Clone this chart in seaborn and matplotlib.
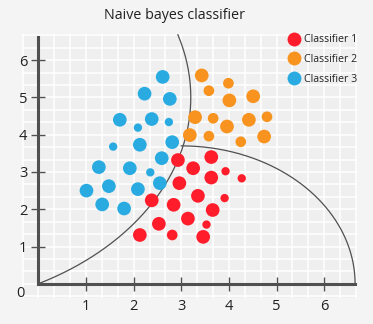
import numpy as np
import pandas as pd
import matplotlib
matplotlib.use("Agg")
import matplotlib.pyplot as plt
import seaborn as sns
from matplotlib.lines import Line2D
from matplotlib.ticker import MultipleLocator

# ---------------- data ----------------
classes = ["Classifier 1", "Classifier 2", "Classifier 3"]
palette = ["#FF1D2B", "#F7931E", "#29ABE2"]

c1_x = [2.93, 3.63, 3.25, 3.63, 3.93, 4.27, 2.96, 3.35, 3.91, 2.38, 2.84, 3.66, 3.14, 2.53, 3.53, 2.13, 2.81, 3.46]
c1_y = [3.32, 3.40, 3.10, 2.85, 3.02, 2.83, 2.70, 2.36, 2.30, 2.24, 2.12, 1.98, 1.75, 1.61, 1.59, 1.31, 1.31, 1.26]
c1_s = ["L", "L", "L", "L", "S", "S", "L", "L", "S", "L", "L", "L", "L", "L", "S", "L", "M", "L"]

c2_x = [3.43, 3.99, 3.58, 4.01, 4.51, 3.29, 3.67, 3.96, 4.42, 4.80, 3.18, 3.58, 4.25, 4.74]
c2_y = [5.59, 5.38, 5.18, 4.92, 5.03, 4.47, 4.44, 4.22, 4.40, 4.48, 3.99, 3.96, 3.81, 3.95]
c2_s = ["L", "M", "M", "L", "L", "L", "M", "L", "L", "M", "L", "M", "M", "L"]

c3_x = [2.61, 2.23, 2.76, 1.71, 2.38, 2.09, 2.74, 1.57, 2.13, 2.81, 2.59, 1.27, 1.92, 2.35, 1.01, 1.48, 2.09, 2.55, 1.34, 1.80]
c3_y = [5.55, 5.10, 4.96, 4.40, 4.42, 4.19, 4.34, 3.68, 3.73, 3.80, 3.37, 3.13, 3.10, 2.99, 2.50, 2.62, 2.54, 2.70, 2.13, 2.02]
c3_s = ["L", "L", "L", "L", "L", "S", "S", "S", "L", "L", "L", "L", "L", "S", "L", "L", "L", "L", "L", "L"]

x_ticks = [1, 2, 3, 4, 5, 6]
y_ticks = [1, 2, 3, 4, 5, 6]

# decision boundaries (ellipse parameters: centre x, centre y, radius x, radius y)
bound1 = dict(cx=-2.8, cy=5.0, rx=6.0, ry=5.65, ytop=6.68)
bound2 = dict(cx=3.0, cy=0.0, rx=3.65, ry=3.7)

df = pd.DataFrame({
    "x": c1_x + c2_x + c3_x,
    "y": c1_y + c2_y + c3_y,
    "cls": [classes[0]] * len(c1_x) + [classes[1]] * len(c2_x) + [classes[2]] * len(c3_x),
    "sz": c1_s + c2_s + c3_s,
})

# ---------------- style ----------------
plt.rcParams["font.family"] = ["Open Sans", "DejaVu Sans"]
axis_col = "#505050"
text_col = "#222222"

fig = plt.figure(figsize=(3.73, 3.24), dpi=100, facecolor="#f4f4f4")
ax = fig.add_axes([0.0582, 0.0802, 0.8989, 0.8148])
ax.set_facecolor("#efefef")

sns.scatterplot(data=df, x="x", y="y", hue="cls", hue_order=classes, palette=palette,
                size="sz", sizes={"L": 97, "M": 59, "S": 36}, linewidth=0,
                legend=False, ax=ax, zorder=3)

# boundaries
t0 = np.arctan2((0 - bound1["cy"]) / bound1["ry"], (0 - bound1["cx"]) / bound1["rx"])
t1 = np.arcsin((bound1["ytop"] - bound1["cy"]) / bound1["ry"])
t = np.linspace(t0, t1, 300)
ax.plot(bound1["cx"] + bound1["rx"] * np.cos(t), bound1["cy"] + bound1["ry"] * np.sin(t),
        color=axis_col, lw=0.9, zorder=2)
t = np.linspace(0, np.pi / 2, 300)
ax.plot(bound2["cx"] + bound2["rx"] * np.cos(t), bound2["cy"] + bound2["ry"] * np.sin(t),
        color=axis_col, lw=0.9, zorder=2)

ax.set_xlim(-0.35, 6.69)
ax.set_ylim(-0.38, 6.70)
ax.set_xlabel("")
ax.set_ylabel("")

# background grid
ax.xaxis.set_minor_locator(MultipleLocator(1 / 3))
ax.yaxis.set_minor_locator(MultipleLocator(1 / 3))
ax.grid(which="both", color="white", lw=1.1, zorder=0)
ax.set_axisbelow(True)

for s in ["top", "right"]:
    ax.spines[s].set_visible(False)
ax.spines["left"].set_position(("data", 0))
ax.spines["bottom"].set_position(("data", 0))
ax.spines["left"].set_bounds(0, 6.63)
ax.spines["bottom"].set_bounds(0, 6.65)
for s in ["left", "bottom"]:
    ax.spines[s].set_color(axis_col)
    ax.spines[s].set_linewidth(2.2)
    ax.spines[s].set_zorder(4)

ax.set_xticks(x_ticks)
ax.set_yticks(y_ticks)
ax.set_xticklabels([str(v) for v in x_ticks])
ax.set_yticklabels([str(v) for v in y_ticks])
ax.tick_params(which="major", direction="inout", length=9.4, width=1.0, color=axis_col,
               labelsize=10.5, labelcolor=text_col)
ax.tick_params(axis="x", which="major", pad=6)
ax.tick_params(axis="y", which="major", pad=3.2)
ax.tick_params(which="minor", length=0)

ax.text(-0.37, -0.27, "0", ha="center", va="center", fontsize=10.5, color=text_col)

fig.text(0.469, 0.951, "Naive bayes classifier", ha="center", va="center",
         fontsize=10.3, color=text_col)

handles = [Line2D([], [], marker="o", ls="", markersize=10, markerfacecolor=c,
                  markeredgewidth=0) for c in palette]
fig.legend(handles, classes, loc="upper left", bbox_to_anchor=(288 / 373, 1 - 34.5 / 324),
           frameon=False, fontsize=7.7, handlelength=1.2, handletextpad=0.3,
           labelspacing=0.8, borderpad=0, borderaxespad=0, labelcolor=text_col)

fig.savefig("out.png", dpi=100, facecolor=fig.get_facecolor())
